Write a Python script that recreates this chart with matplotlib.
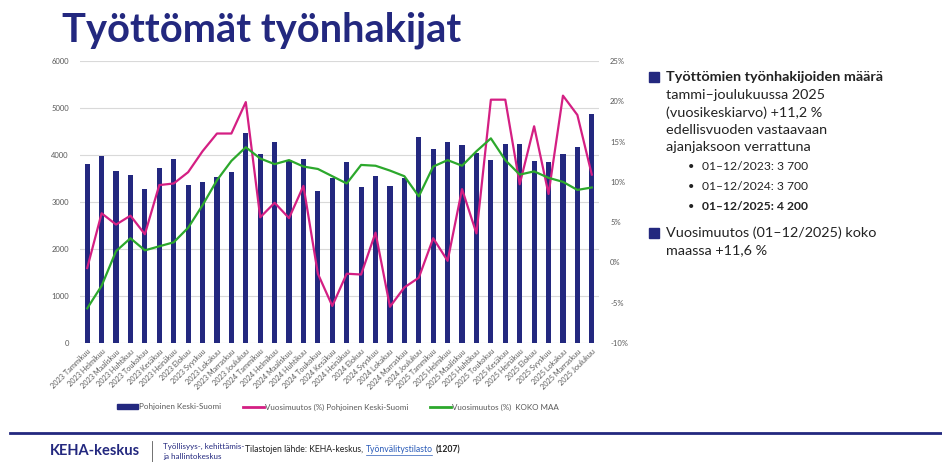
import numpy as np
import matplotlib.pyplot as plt
from matplotlib.patches import Patch, Rectangle
from matplotlib.lines import Line2D

plt.rcParams['font.family'] = ['Lato', 'DejaVu Sans']

months = ["Tammikuu", "Helmikuu", "Maaliskuu", "Huhtikuu", "Toukokuu", "Kesäkuu",
          "Heinäkuu", "Elokuu", "Syyskuu", "Lokakuu", "Marraskuu", "Joulukuu"]
labels = [f"{y} {m}" for y in (2023, 2024, 2025) for m in months]

# tyottomat tyonhakijat, Pohjoinen Keski-Suomi
count = [3800, 3980, 3660, 3570, 3270, 3725, 3915, 3365, 3420, 3535, 3635, 4470,
         4015, 4280, 3900, 3910, 3230, 3520, 3860, 3315, 3550, 3335, 3520, 4385,
         4135, 4285, 4215, 4035, 3895, 4235, 4235, 3875, 3845, 4025, 4165, 4875]
# vuosimuutos (%) Pohjoinen Keski-Suomi
change_pks = [-0.7, 6.1, 4.7, 5.8, 3.5, 9.6, 9.8, 11.2, 13.8, 16.0, 16.0, 19.9,
              5.6, 7.4, 5.5, 9.5, -1.4, -5.4, -1.4, -1.5, 3.7, -5.5, -3.1, -1.9,
              3.0, 0.2, 9.1, 3.6, 20.2, 20.2, 9.7, 16.9, 8.5, 20.7, 18.3, 10.9]
# vuosimuutos (%) koko maa
change_all = [-5.7, -2.9, 1.4, 3.0, 1.5, 2.0, 2.5, 4.3, 7.1, 10.2, 12.6, 14.3,
              12.9, 12.2, 12.7, 11.9, 11.6, 10.7, 9.8, 12.1, 12.0, 11.4, 10.7, 8.2,
              11.9, 12.7, 12.0, 13.8, 15.4, 12.7, 10.9, 11.3, 10.5, 10.0, 9.0, 9.3]

navy = "#23287f"
pink = "#d41f83"
green = "#2ca82c"
gray = "#595959"

fig = plt.figure(figsize=(9.42, 4.62), dpi=100)

# title
fig.text(62 / 942, 1 - 30 / 462, "Työttömät työnhakijat", fontsize=28.7, fontweight="bold",
         color=navy, va="center", ha="left")

ax = fig.add_axes([80 / 942, 119 / 462, 519 / 942, 282 / 462])
x = np.arange(len(labels))
ax.bar(x, count, width=0.36, color=navy, zorder=2)
ax.set_xlim(-0.5, len(labels) - 0.5)
ax.set_ylim(0, 6000)
ax.set_yticks(range(0, 6001, 1000))
ax.yaxis.grid(True, color="#d9d9d9", linewidth=0.8, zorder=0)
ax.set_axisbelow(True)
for s in ax.spines.values():
    s.set_visible(False)
ax.tick_params(axis="both", length=0, labelsize=5.5, labelcolor=gray)
ax.tick_params(axis="y", pad=8)
ax.set_xticks(x)
ax.set_xticklabels(labels, rotation=45, ha="right", rotation_mode="anchor", fontsize=5.3)

ax2 = ax.twinx()
ax2.plot(x, change_pks, color=pink, linewidth=1.6)
ax2.plot(x, change_all, color=green, linewidth=1.6)
ax2.set_ylim(-10, 25)
ax2.set_yticks(range(-10, 26, 5))
ax2.set_yticklabels([f"{v}%" for v in range(-10, 26, 5)])
for s in ax2.spines.values():
    s.set_visible(False)
ax2.tick_params(axis="y", length=0, labelsize=5.5, labelcolor=gray, pad=8)

handles = [Patch(color=navy), Line2D([], [], color=pink, linewidth=2),
           Line2D([], [], color=green, linewidth=2)]
names = ["Pohjoinen Keski-Suomi", "Vuosimuutos (%) Pohjoinen Keski-Suomi",
         "Vuosimuutos (%)  KOKO MAA"]
fig.legend(handles, names, loc="center", bbox_to_anchor=(338 / 942, 1 - 407 / 462),
           ncol=3, frameon=False, fontsize=5.8, handlelength=2.6, handleheight=0.55,
           handletextpad=0.15, columnspacing=2.7, labelcolor=gray)

# right text panel
def fy(py):
    return 1 - py / 462

def bullet(py):
    fig.patches.append(Rectangle((649 / 942, fy(py + 5)), 10 / 942, 10 / 462,
                                 transform=fig.transFigure, color=navy))

tc = "#222222"
bullet(77)
fig.text(666 / 942, fy(77), "Työttömien työnhakijoiden määrä", fontsize=10.4,
         fontweight="bold", color=tc, va="center")
for py, line in zip([95, 113, 130, 147],
                    ["tammi–joulukuussa 2025", "(vuosikeskiarvo) +11,2 %",
                     "edellisvuoden vastaavaan", "ajanjaksoon verrattuna"]):
    fig.text(666 / 942, fy(py), line, fontsize=10.4, color=tc, va="center")
for py, line, w in [(167, "01–12/2023: 3 700", "normal"),
                    (187, "01–12/2024: 3 700", "normal"),
                    (207, "01–12/2025: 4 200", "bold")]:
    fig.text(688 / 942, fy(py), "•", fontsize=8, color=tc, va="center")
    fig.text(702 / 942, fy(py), line, fontsize=8.7, color=tc, va="center", fontweight=w)
bullet(233)
fig.text(666 / 942, fy(233), "Vuosimuutos (01–12/2025) koko", fontsize=10.4, color=tc,
         va="center")
fig.text(666 / 942, fy(250), "maassa +11,6 %", fontsize=10.4, color=tc, va="center")

# footer
fig.add_artist(Line2D([10 / 942, 1], [fy(433), fy(433)], color=navy, linewidth=2,
                      transform=fig.transFigure))
fig.text(50 / 942, fy(451), "KEHA-keskus", fontsize=10.5, fontweight="bold", color=navy,
         va="center")
fig.add_artist(Line2D([152 / 942, 152 / 942], [fy(441), fy(462)], color=gray, linewidth=0.6,
                      transform=fig.transFigure))
fig.text(163 / 942, fy(446), "Työllisyys-, kehittämis-", fontsize=5.8, color=navy,
         va="center")
fig.text(163 / 942, fy(456), "ja hallintokeskus", fontsize=5.8, color=navy, va="center")
fig.text(245 / 942, fy(450), "Tilastojen lähde: KEHA-keskus,", fontsize=6.2, color=tc,
         va="center")
fig.text(366 / 942, fy(450), "Työnvälitystilasto", fontsize=6.2, color="#2a5bb8",
         va="center")
fig.add_artist(Line2D([366 / 942, 432 / 942], [fy(455), fy(455)], color="#2a5bb8",
                      linewidth=0.5, transform=fig.transFigure))
fig.text(436 / 942, fy(450), "(1207)", fontsize=6.2, color=tc, va="center",
         fontweight="bold")

fig.savefig("out.png", dpi=100)
